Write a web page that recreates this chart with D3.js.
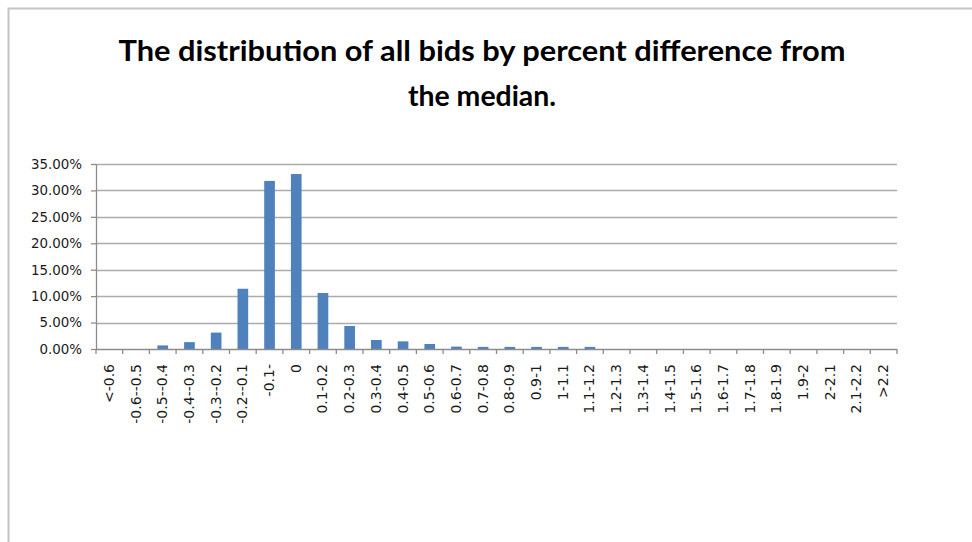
<!DOCTYPE html>
<html><head><meta charset="utf-8">
<script src="https://cdn.jsdelivr.net/npm/d3@7"></script>
<style>
html,body{margin:0;padding:0;background:#fff;}
svg{display:block;}
</style></head>
<body>
<script>
const categories = ["<-0.6","-0.6--0.5","-0.5--0.4","-0.4--0.3","-0.3--0.2","-0.2--0.1","-0.1-","0","0.1-0.2","0.2-0.3","0.3-0.4","0.4-0.5","0.5-0.6","0.6-0.7","0.7-0.8","0.8-0.9","0.9-1","1-1.1","1.1-1.2","1.2-1.3","1.3-1.4","1.4-1.5","1.5-1.6","1.6-1.7","1.7-1.8","1.8-1.9","1.9-2","2-2.1","2.1-2.2",">2.2"];
const values = [0,0,0.0068,0.013,0.031,0.114,0.318,0.331,0.106,0.0435,0.017,0.0145,0.0095,0.0045,0.004,0.004,0.004,0.004,0.004,0,0,0,0,0,0,0,0,0,0,0];
const yTicks = [0,0.05,0.10,0.15,0.20,0.25,0.30,0.35];
const titleLines = ["The distribution of all bids by percent difference from","the median."];

const W = 972, H = 542;
const svg = d3.select("body").append("svg").attr("width", W).attr("height", H);

// outer chart border (left and top visible)
svg.append("path").attr("d", `M8.5,${H} V8.5 H${W}`).attr("fill","none").attr("stroke","#c4c4c4").attr("stroke-width",2);

const m = {left:96, right:897, top:164, bottom:349};
const x = d3.scaleBand().domain(categories).range([m.left, m.right]).paddingInner(0.6).paddingOuter(0.3);
const y = d3.scaleLinear().domain([0,0.35]).range([m.bottom, m.top]);

// gridlines
svg.append("g").selectAll("line").data(yTicks.slice(1)).join("line")
  .attr("x1", m.left).attr("x2", m.right)
  .attr("y1", d=>Math.round(y(d))+0.5).attr("y2", d=>Math.round(y(d))+0.5)
  .attr("stroke","#acacac").attr("stroke-width",1.5);

// bars
svg.append("g").selectAll("rect").data(values).join("rect")
  .attr("x", (d,i)=>x(categories[i]))
  .attr("width", x.bandwidth())
  .attr("y", d=>y(d))
  .attr("height", d=>y(0)-y(d))
  .attr("fill","#4f81bd");

// y axis
const yAxis = d3.axisLeft(y).tickValues(yTicks).tickFormat(d3.format(".2%")).tickSize(5).tickSizeOuter(0);
const gy = svg.append("g").attr("transform",`translate(${m.left},0)`).call(yAxis);
gy.select(".domain").attr("stroke","#8c8c8c").attr("stroke-width",1.3);
gy.selectAll(".tick line").attr("stroke","#8c8c8c").attr("stroke-width",1.3);
gy.selectAll("text").attr("x",-14).attr("font-family","DejaVu Sans").attr("font-size",13.4).attr("fill","#1a1a1a");

// x axis
const boundaries = d3.range(categories.length+1);
const step = (m.right-m.left)/categories.length;
const gx = svg.append("g");
gx.append("line").attr("x1",m.left).attr("x2",m.right).attr("y1",m.bottom+0.5).attr("y2",m.bottom+0.5).attr("stroke","#8c8c8c").attr("stroke-width",1.3);
gx.selectAll("line.t").data(boundaries).join("line").attr("class","t")
  .attr("x1", d=>m.left+d*step).attr("x2", d=>m.left+d*step)
  .attr("y1", m.bottom).attr("y2", m.bottom+5)
  .attr("stroke","#8c8c8c").attr("stroke-width",1.3);
gx.selectAll("text").data(categories).join("text")
  .attr("transform", d=>`translate(${x(d)+x.bandwidth()/2+4.5},${m.bottom+15}) rotate(-90)`)
  .attr("text-anchor","end")
  .attr("font-family","DejaVu Sans").attr("font-size",14).attr("fill","#1a1a1a")
  .text(d=>d);

// title
svg.append("g").selectAll("text").data(titleLines).join("text")
  .attr("x", 482).attr("y", (d,i)=>61+i*45)
  .attr("text-anchor","middle")
  .attr("font-family","Lato, 'Open Sans', sans-serif").attr("font-weight","bold").attr("font-size",28)
  .attr("textLength", (d,i)=> i===0 ? 727 : 148)
  .attr("lengthAdjust","spacingAndGlyphs")
  .attr("fill","#000")
  .text(d=>d);
</script>
</body></html>
